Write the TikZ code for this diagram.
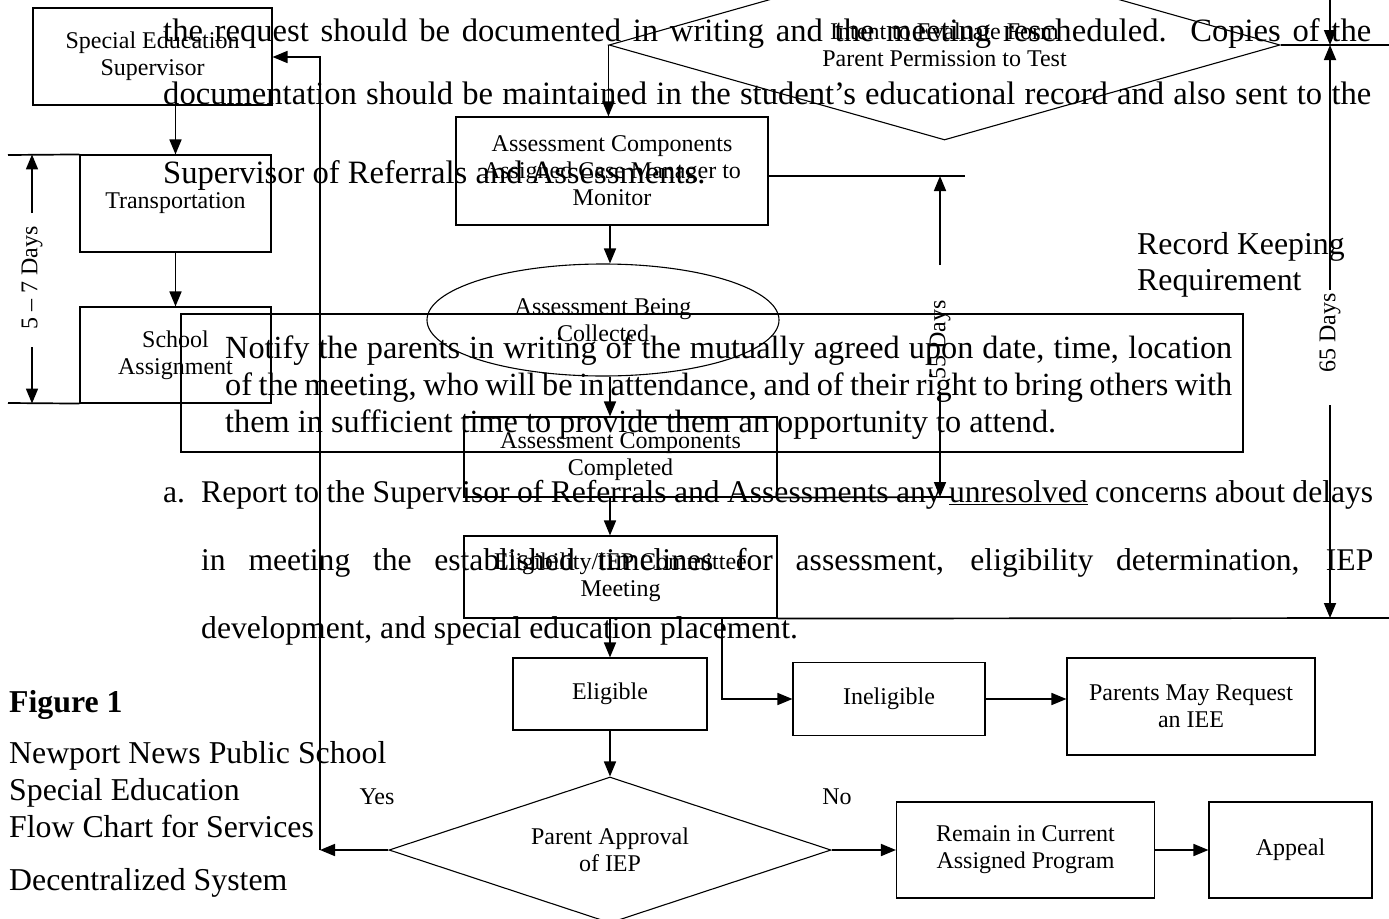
\documentclass[tikz,border=0pt]{standalone}
\usepackage{fontspec}
\setmainfont{Liberation Serif}
\usetikzlibrary{arrows.meta,shapes.geometric}
\newcommand\boxfont{\fontsize{24}{27}\selectfont}
\newcommand\toppara{\fontsize{32.6}{37}\selectfont}
\newcommand\notpara{\fontsize{32.3}{37}\selectfont}
\newcommand\apara{\fontsize{31.6}{37}\selectfont}
\newcommand\capfont{\fontsize{31.8}{37}\selectfont}
\begin{document}
\begin{tikzpicture}[x=1pt,y=-1pt,
  box/.style={draw, line width=1.1pt, inner sep=0pt, align=center, font=\boxfont},
  conn/.style={line width=1.7pt},
  arr/.style={conn, -{Triangle[length=15pt,width=12pt]}},
  bodytxt/.style={anchor=base west, inner sep=0pt},
  lbl/.style={inner sep=0pt, font=\boxfont},
  dimlbl/.style={inner sep=0pt, font=\boxfont, rotate=90},
]
\useasboundingbox (0,0) rectangle (1389,918);
\clip (0,0) rectangle (1389,918);

% ---------- flowchart shapes ----------
\node[box, minimum width=239pt, minimum height=97pt] (sup) at (152.5,56.5) {Special Education\\Supervisor};
\node[box, minimum width=191pt, minimum height=97pt] (trans) at (175.5,203.5) {Transportation};
\node[box, minimum width=191pt, minimum height=96pt] (school) at (175.5,355) {School\\Assignment};
\node[box, diamond, aspect=3.5, minimum width=671pt, minimum height=190pt] (topdiam) at (944.5,45) {Intent to Evaluate Form\\Parent Permission to Test};
\node[box, minimum width=312pt, minimum height=108pt] (assign) at (612,171) {Assessment Components\\Assigned Case Manager to\\Monitor};
\node[box, ellipse, minimum width=352pt, minimum height=112pt] (collect) at (603,320) {Assessment Being\\Collected};
\node[box, minimum width=313pt, minimum height=80pt] (compl) at (620.5,457) {Assessment Components\\Completed};
\node[box, minimum width=313pt, minimum height=82pt] (meet) at (620.5,577) {Eligibility/IEP Committee\\Meeting};
\node[box, minimum width=194pt, minimum height=72pt] (eligible) at (610,694) {Eligible};
\node[box, minimum width=192pt, minimum height=73pt] (inelig) at (889,699) {Ineligible};
\node[box, minimum width=248pt, minimum height=97pt] (iee) at (1191,706.5) {Parents May Request\\an IEE};
\node[box, diamond, aspect=3, minimum width=442pt, minimum height=146pt] (pdiam) at (610,850) {Parent Approval\\of IEP};
\node[box, minimum width=258pt, minimum height=96pt] (remain) at (1025.5,850) {Remain in Current\\Assigned Program};
\node[box, minimum width=163pt, minimum height=96pt] (appeal) at (1290.5,850) {Appeal};
\node[box, minimum width=1062pt, minimum height=138pt] (notifybox) at (712,383) {};

\node[lbl] (yes) at (377,797) {Yes};
\node[lbl] (no) at (837,797) {No};

% ---------- helper coordinates ----------
\coordinate (col) at (610,0);
\coordinate (brk) at (722,0);
\coordinate (yesc) at (320,850);
\coordinate (yest) at (320,57);
\coordinate (d57a) at (8,155);
\coordinate (d57b) at (8,403);
\coordinate (d57t) at (32,213);
\coordinate (d57u) at (32,347);
\coordinate (d55a) at (965,176);
\coordinate (d55b) at (953,497);
\coordinate (d55t) at (940,265);
\coordinate (d55u) at (940,392);
\coordinate (tredge) at (1389,45);
\coordinate (brredge) at (1389,618);
\coordinate (trtop) at (1330,0);
\coordinate (d65t) at (1330,290);
\coordinate (d65u) at (1330,405);

% ---------- connectors ----------
\draw[arr] (sup.south -| trans.north) -- (trans.north);
\draw[arr] (trans.south) -- (school.north);
\draw[arr] (topdiam.west) -- (topdiam.west |- assign.north);
\draw[arr] (col |- assign.south) -- (col |- collect.north);
\draw[arr] (col |- collect.south) -- (col |- compl.north);
\draw[arr] (col |- compl.south) -- (col |- meet.north);
\draw[arr] (col |- meet.south) -- (col |- eligible.north);
\draw[arr] (eligible.south) -- (pdiam.north);
\draw[arr] (brk |- meet.south) |- (inelig.west);
\draw[arr] (inelig.east) -- (inelig.east -| iee.west);
\draw[arr] (pdiam.east) -- (remain.west);
\draw[arr] (remain.east) -- (appeal.west);
\draw[arr] (pdiam.west) -- (yesc);
\draw[arr] (yesc) -- (yest) -- (yest -| sup.east);

% ---------- time spans ----------
\draw[conn] (d57a) -- (trans.north west);
\draw[conn] (d57b) -- (school.south west);
\draw[arr] (d57t) -- (d57t |- trans.north);
\node[dimlbl] (d57) at (32,278) {5 -- 7 Days};
\draw[arr] (d57u) -- (d57u |- school.south);

\draw[conn] (assign.east |- d55a) -- (d55a);
\draw[conn] (compl.south east) -- (d55b);
\draw[arr] (d55t) -- (d55t |- d55a);
\node[dimlbl] (d55) at (940,340) {55 Days};
\draw[arr] (d55u) -- (d55u |- d55b);

\draw[conn] (topdiam.east) -- (tredge);
\draw[conn] (meet.south east) -- (brredge);
\draw[arr] (trtop) -- (trtop |- tredge);
\draw[arr] (d65t) -- (d65t |- tredge);
\node[dimlbl] (d65) at (1330,333) {65 Days};
\draw[arr] (d65u) -- (d65u |- brredge);

% ---------- overlaid text ----------
\node[bodytxt, font=\toppara] (p1) at (163,41) {\makebox[1208pt][s]{the request should be documented in writing and the meeting rescheduled.\ \ Copies of the}};
\node[bodytxt, font=\toppara] (p2) at (163,104) {\makebox[1208pt][s]{documentation should be maintained in the student's educational record and also sent to the}};
\node[bodytxt, font=\toppara] (p3) at (163,183) {Supervisor of Referrals and Assessments.};

\node[bodytxt, font=\capfont] (rk1) at (1137,254) {Record Keeping};
\node[bodytxt, font=\capfont] (rk2) at (1137,290) {Requirement};

\node[bodytxt, font=\notpara] (n1) at (225,358) {\makebox[1007pt][s]{Notify the parents in writing of the mutually agreed upon date, time, location}};
\node[bodytxt, font=\notpara] (n2) at (225,395) {\makebox[1007pt][s]{of the meeting, who will be in attendance, and of their right to bring others with}};
\node[bodytxt, font=\notpara] (n3) at (225,432) {them in sufficient time to provide them an opportunity to attend.};

\node[bodytxt, font=\apara] (a0) at (163,502) {a.};
\node[bodytxt, font=\apara] (a1) at (201,502) {\makebox[1172pt][s]{Report to the Supervisor of Referrals and Assessments any \underline{unresolved} concerns about delays}};
\node[bodytxt, font=\apara] (a2) at (201,570) {\makebox[1172pt][s]{in meeting the established timelines for assessment, eligibility determination, IEP}};
\node[bodytxt, font=\apara] (a3) at (201,638) {development, and special education placement.};

\node[bodytxt, font=\capfont\bfseries] (fig) at (9,712) {Figure 1};
\node[bodytxt, font=\capfont] (c1) at (9,763) {Newport News Public School};
\node[bodytxt, font=\capfont] (c2) at (9,800) {Special Education};
\node[bodytxt, font=\capfont] (c3) at (9,837) {Flow Chart for Services};
\node[bodytxt, font=\capfont] (c4) at (9,890) {Decentralized System};
\end{tikzpicture}
\end{document}
